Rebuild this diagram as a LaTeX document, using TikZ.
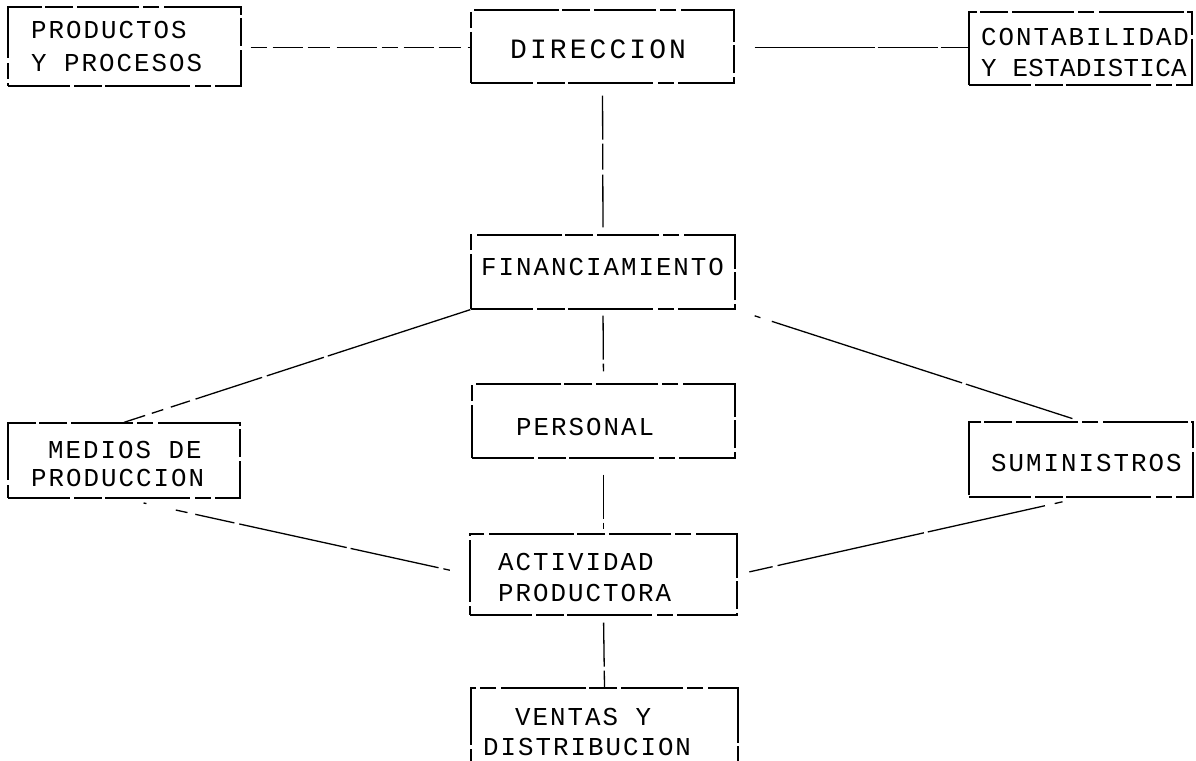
\documentclass[tikz,border=0pt]{standalone}
\usepackage{fontspec}
\newfontfamily\dotmono[LetterSpace=7.75]{Liberation Mono}
\begin{document}
\begin{tikzpicture}[x=1pt,y=-1pt,
  box/.style={draw, line width=1.3pt, inner sep=0pt,
    dash pattern=on 62pt off 4pt on 28pt off 3pt on 85pt off 5pt on 16pt off 4pt},
  link/.style={draw, line width=1.3pt,
    dash pattern=on 44pt off 4pt on 26pt off 5pt on 60pt off 4pt},
  solidlink/.style={draw, line width=1.3pt, dash pattern=on 120pt off 3pt on 60pt off 3pt},
  txt/.style={anchor=base west, inner sep=0pt, font=\dotmono\fontsize{25.8}{30}\selectfont}]
\useasboundingbox (0,0) rectangle (1196,760);
\clip (0,0) rectangle (1196,760);

% boxes
\node[box, minimum width=233pt, minimum height=79pt] (prod) at (124.5,46.5) {};
\node[box, minimum width=263pt, minimum height=73pt] (dir)  at (602.5,46.5) {};
\node[box, minimum width=223pt, minimum height=73pt] (cont) at (1080.5,48.5) {};
\node[box, minimum width=264pt, minimum height=74pt] (fin)  at (603,272) {};
\node[box, minimum width=263pt, minimum height=74pt] (pers) at (603.5,421) {};
\node[box, minimum width=232pt, minimum height=75pt] (med)  at (124,460.5) {};
\node[box, minimum width=224pt, minimum height=75pt] (sum)  at (1081,459.5) {};
\node[box, minimum width=267pt, minimum height=81pt] (act)  at (603.5,574.5) {};
\node[box, minimum width=267pt, minimum height=92pt] (ven)  at (604.5,734) {};

% texts
\node[txt] (prodA) at (31,38.5) {PRODUCTOS};
\node[txt] (prodB) at (31,71.5) {Y PROCESOS};
\node[txt, font=\dotmono\fontsize{28}{32}\selectfont\addfontfeature{LetterSpace=11}] (dirA) at (510,59) {DIRECCION};
\node[txt] (contA) at (981,45.5) {CONTABILIDAD};
\node[txt, font=\dotmono\fontsize{25.8}{30}\selectfont\addfontfeature{LetterSpace=1.5}] (contB) at (981,76.5) {Y ESTADISTICA};
\node[txt] (finA) at (481,275.5) {FINANCIAMIENTO};
\node[txt] (persA) at (516,435.5) {PERSONAL};
\node[txt] (medA) at (48,458.5) {MEDIOS DE};
\node[txt] (medB) at (31,486.5) {PRODUCCION};
\node[txt] (sumA) at (991,471.5) {SUMINISTROS};
\node[txt] (actA) at (498,570.5) {ACTIVIDAD};
\node[txt] (actB) at (498,601.5) {PRODUCTORA};
\node[txt] (venA) at (515,725.5) {VENTAS Y};
\node[txt] (venB) at (483,755.5) {DISTRIBUCION};

% connectors
\draw[link, dash pattern=on 16pt off 6pt on 30pt off 5pt on 22pt off 7pt on 40pt off 5pt]
  ([yshift=-1pt]prod.east) ++(9pt,0) -- ([yshift=-1pt]dir.west) ;
\draw[solidlink] (dir.east) ++(20pt,-1pt) -- ([yshift=-1pt]dir.east -| cont.west);
\draw[link, shorten <=12pt, shorten >=7pt] (dir.south) -- (fin.north);
\draw[link, shorten <=6pt, shorten >=12pt] (fin.south) -- (pers.north);
\draw[link, shorten <=16pt, shorten >=4pt] (pers.south) -- (act.north);
\draw[link, shorten <=7pt] (act.south) -- (ven.north);
\draw[link, dash pattern=on 150pt off 4pt on 60pt off 5pt on 70pt off 6pt on 20pt off 8pt on 12pt off 7pt]
  (fin.south west) -- (med.north);
\draw[link, dash pattern=on 6pt off 12pt on 200pt off 4pt on 120pt off 4pt, shorten <=20pt, shorten >=9pt]
  (fin.south east) -- (sum.north);
\draw[link, dash pattern=on 3pt off 30pt on 12pt off 8pt on 40pt off 5pt on 110pt off 4pt on 90pt off 5pt on 40pt off 5pt, shorten <=20pt, shorten >=20pt]
  (med.south) -- (act.west);
\draw[link, dash pattern=on 8pt off 10pt on 120pt off 4pt on 150pt off 5pt on 40pt off 6pt on 8pt off 6pt, shorten <=19pt, shorten >=12pt]
  (sum.south) -- (act.east);
\end{tikzpicture}
\end{document}
